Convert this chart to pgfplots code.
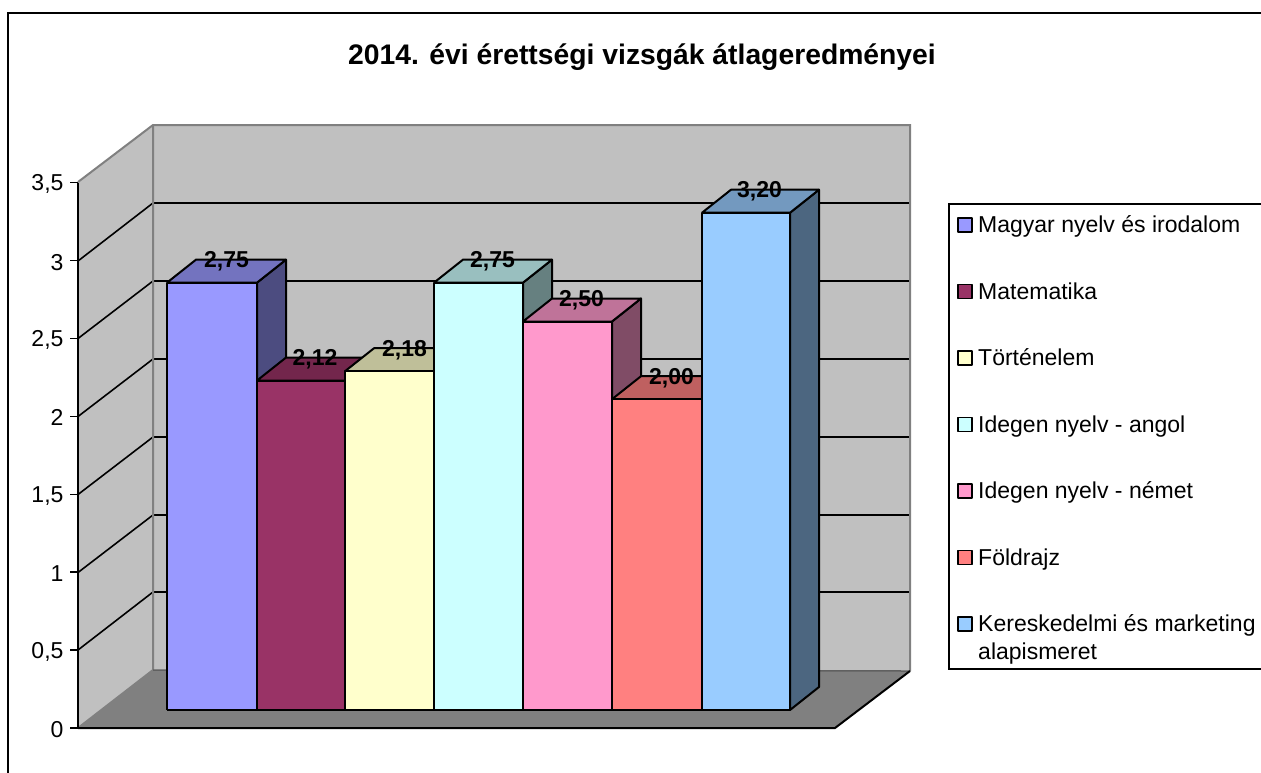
\documentclass[border=0pt]{standalone}
\usepackage{pgfplots}
\usepackage{pgfplotstable}
\pgfplotsset{compat=1.18}
\usepackage{fontspec}
\setmainfont{Liberation Sans}
\definecolor{cA}{HTML}{9999FF}
\definecolor{cB}{HTML}{993366}
\definecolor{cC}{HTML}{FFFFCC}
\definecolor{cD}{HTML}{CCFFFF}
\definecolor{cE}{HTML}{FF99CC}
\definecolor{cF}{HTML}{FF8080}
\definecolor{cG}{HTML}{99CCFF}
\definecolor{wall}{HTML}{C0C0C0}
\definecolor{flr}{HTML}{808080}
\pgfplotstableread{
x v label
226.5 2.75 2,75
315 2.12 2,12
404.5 2.18 2,18
492.5 2.75 2,75
581.5 2.50 2,50
671.5 2.00 2,00
759.5 3.20 3,20
}\labeltable
\pgfplotsset{
  canvas/.style={at={(0pt,0pt)},anchor=south west,scale only axis,width=1261pt,height=772pt,xmin=0,xmax=1261,hide axis},
  face/.style={draw=black,line width=2pt,line join=round,fill=#1,forget plot},
  front/.style={draw=black,line width=2pt,line join=round,fill=#1},
  wallf/.style={draw=none,fill=#1,forget plot},
  grid3d/.style={draw=black,line width=1.6pt,forget plot},
  swFirst/.style={legend image code/.code={\draw[##1,line width=1.8pt] (0pt,-7.3pt) rectangle (14pt,6.7pt);}},
  swLast/.style={legend image code/.code={\draw[##1,line width=1.8pt] (0pt,7.7pt) rectangle (14pt,21.7pt);}},
}
\begin{document}
\begin{tikzpicture}
\useasboundingbox (0pt,0pt) rectangle (1261pt,772pt);
% decoration in pixel coordinates
\begin{axis}[canvas,ymin=0,ymax=772,y dir=reverse]
\addplot[wallf=wall] coordinates {(78,182)(153,125)(910,125)(910,671)(153,670)(78,728)(78,182)};
\addplot[wallf=flr] coordinates {(78,728)(153,670)(910,671)(835,728)(78,728)};
\addplot[grid3d] coordinates {(78,650)(153,592)(910,592)};
\addplot[grid3d] coordinates {(78,572.5)(153,515)(910,515)};
\addplot[grid3d] coordinates {(78,494.5)(153,437)(910,437)};
\addplot[grid3d] coordinates {(78,416.5)(153,359)(910,359)};
\addplot[grid3d] coordinates {(78,338.5)(153,281)(910,281)};
\addplot[grid3d] coordinates {(78,261)(153,203)(910,203)};
\addplot[draw=flr,line width=2pt,forget plot] coordinates {(78,182)(153,125)(910,125)(910,671)};
\addplot[draw=flr,line width=2pt,forget plot] coordinates {(153,125)(153,670)(78,728)};
\addplot[draw=flr!75!black,line width=1.5pt,forget plot] coordinates {(153,670)(910,671)};
\addplot[draw=black,line width=2pt,forget plot] coordinates {(78,728)(835,728)(910,671)};
\addplot[draw=black,line width=2.5pt,forget plot] coordinates {(8,790)(8,13)(1280,13)};
\node[font=\fontsize{28.3}{32}\selectfont\bfseries] at (axis cs:642,57) {2014. évi érettségi vizsgák átlageredményei};
\end{axis}
% value axis
\begin{axis}[at={(78pt,44pt)},anchor=south west,scale only axis,width=700pt,height=545.3pt,
  xmin=0,xmax=1,ymin=0,ymax=3.5,axis y line=left,axis x line=none,axis line style={-,line width=2pt,black},
  ytick={0,0.5,1,1.5,2,2.5,3,3.5},tick align=outside,major tick length=8pt,
  tick style={black,line width=1.6pt},
  xtick=\empty,
  yticklabel style={font=\fontsize{23}{26}\selectfont,xshift=-3pt,yshift=-1.5pt,/pgf/number format/use comma,/pgf/number format/assume math mode=true},
  /pgf/number format/use comma,/pgf/number format/assume math mode=true]
\end{axis}
% bars in value units: y = 0 lies on the front edge of the columns
\begin{axis}[canvas,ymin=-0.39897,ymax=4.5689,
  legend style={at={(axis description cs:0.75178,0.73705)},anchor=north west,
    draw=black,line width=1.8pt,fill=white,inner xsep=8.5pt,inner ysep=4pt,
    font=\fontsize{23}{28}\selectfont,cells={anchor=base west},
    nodes={inner sep=0pt,text depth=},row sep=38.5pt,column sep=0pt},
  legend cell align=left,
  legend image code/.code={\draw[#1,line width=1.8pt] (0pt,-4.6pt) rectangle (14pt,9.4pt);},
]
\addplot[face=cA!50!black] coordinates {(257,2.75)(286,2.898)(286,0.148)(257,0)(257,2.75)};
\addplot[face=cA!75!black] coordinates {(167,2.75)(257,2.75)(286,2.898)(196,2.898)(167,2.75)};
\addplot[front=cA,swFirst] coordinates {(167,0)(257,0)(257,2.75)(167,2.75)(167,0)};
\addlegendentry{\rule{0pt}{25pt}\hspace{5pt}Magyar nyelv és irodalom\rule[-8.4pt]{0pt}{8.4pt}}
\addplot[face=cB!50!black] coordinates {(345,2.12)(374,2.268)(374,0.148)(345,0)(345,2.12)};
\addplot[face=cB!75!black] coordinates {(257,2.12)(345,2.12)(374,2.268)(286,2.268)(257,2.12)};
\addplot[front=cB] coordinates {(257,0)(345,0)(345,2.12)(257,2.12)(257,0)};
\addlegendentry{\strut\hspace{5pt}Matematika}
\addplot[face=cC!50!black] coordinates {(434,2.18)(463,2.328)(463,0.148)(434,0)(434,2.18)};
\addplot[face=cC!75!black] coordinates {(345,2.18)(434,2.18)(463,2.328)(374,2.328)(345,2.18)};
\addplot[front=cC] coordinates {(345,0)(434,0)(434,2.18)(345,2.18)(345,0)};
\addlegendentry{\strut\hspace{5pt}Történelem}
\addplot[face=cD!50!black] coordinates {(523,2.75)(552,2.898)(552,0.148)(523,0)(523,2.75)};
\addplot[face=cD!75!black] coordinates {(434,2.75)(523,2.75)(552,2.898)(463,2.898)(434,2.75)};
\addplot[front=cD] coordinates {(434,0)(523,0)(523,2.75)(434,2.75)(434,0)};
\addlegendentry{\strut\hspace{5pt}Idegen nyelv - angol}
\addplot[face=cE!50!black] coordinates {(612,2.50)(641,2.648)(641,0.148)(612,0)(612,2.50)};
\addplot[face=cE!75!black] coordinates {(523,2.50)(612,2.50)(641,2.648)(552,2.648)(523,2.50)};
\addplot[front=cE] coordinates {(523,0)(612,0)(612,2.50)(523,2.50)(523,0)};
\addlegendentry{\strut\hspace{5pt}Idegen nyelv - német}
\addplot[face=cF!50!black] coordinates {(702,2.00)(731,2.148)(731,0.148)(702,0)(702,2.00)};
\addplot[face=cF!75!black] coordinates {(612,2.00)(702,2.00)(731,2.148)(641,2.148)(612,2.00)};
\addplot[front=cF] coordinates {(612,0)(702,0)(702,2.00)(612,2.00)(612,0)};
\addlegendentry{\strut\hspace{5pt}Földrajz}
\addplot[face=cG!50!black] coordinates {(790,3.20)(819,3.348)(819,0.148)(790,0)(790,3.20)};
\addplot[face=cG!75!black] coordinates {(702,3.20)(790,3.20)(819,3.348)(731,3.348)(702,3.20)};
\addplot[front=cG,swLast] coordinates {(702,0)(790,0)(790,3.20)(702,3.20)(702,0)};
\addlegendentry{\parbox[t]{290pt}{\strut\hspace{5pt}Kereskedelmi és marketing\\\hspace*{5pt}alapismeret}}
\addplot[draw=none,forget plot,nodes near coords,point meta=explicit symbolic,
  nodes near coords style={anchor=base,yshift=-8pt,inner sep=0pt,font=\fontsize{23}{26}\selectfont\bfseries,text=black}]
  table[x=x,y expr=\thisrow{v}+0.148,meta=label] {\labeltable};
\end{axis}
\end{tikzpicture}
\end{document}
